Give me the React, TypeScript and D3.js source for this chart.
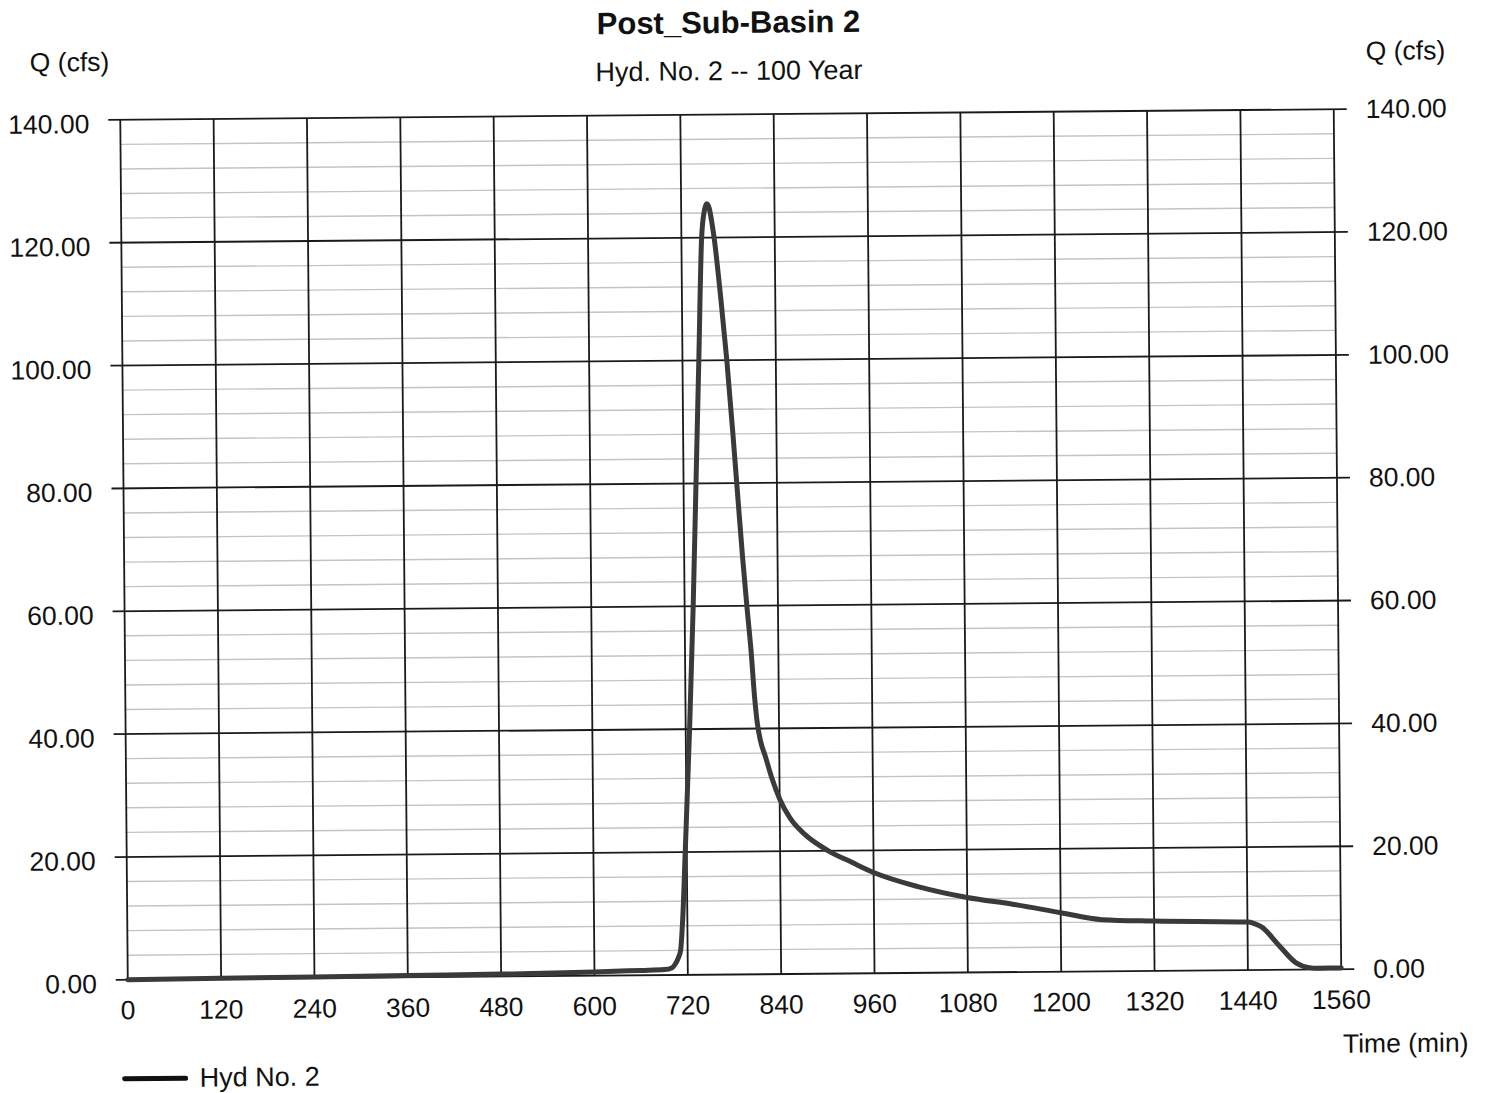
import React from 'react';
import * as d3 from 'd3';

// Hydrograph (time in minutes, flow in cfs)
const timeMin = [0, 120, 240, 360, 480, 600, 660, 690, 700, 704, 708, 711, 714, 718, 725, 731, 736, 741, 746, 750, 753, 756, 759, 762, 770, 777, 784, 790, 795, 800, 805, 809, 812, 816, 822, 830, 840, 853, 872, 902, 932, 960, 1018, 1080, 1140, 1200, 1253, 1320, 1440, 1448, 1458, 1480, 1502, 1519, 1530, 1560];
const flowCfs = [0, 0.1, 0.2, 0.3, 0.4, 0.6, 0.8, 0.9, 1.2, 1.8, 2.8, 4, 9, 20, 40, 60, 80, 100, 120, 124.5, 125.5, 124.8, 122.7, 120, 110, 100, 88, 77, 68, 60, 52.5, 45, 41, 38, 35.5, 32, 28.5, 25.4, 22.7, 20, 18.1, 16.4, 14, 12.2, 11, 9.6, 8.4, 8.1, 7.8, 7.6, 7, 4, 1.1, 0.3, 0.2, 0.2];

const xTicks = [0, 120, 240, 360, 480, 600, 720, 840, 960, 1080, 1200, 1320, 1440, 1560];
const yTicks = [0, 20, 40, 60, 80, 100, 120, 140];
const yMinorTicks = d3.range(0, 141, 4).filter(v => v % 20 !== 0);

const title = 'Post_Sub-Basin 2';
const subtitle = 'Hyd. No. 2 -- 100 Year';
const yLabel = 'Q (cfs)';
const xLabel = 'Time (min)';
const seriesName = 'Hyd No. 2';

const W = 1488;
const H = 1093;
const plot = { left: 124, right: 1337.5, top: 114.5, bottom: 974.5 };
const font = '"Liberation Sans", Arial, Helvetica, sans-serif';

const App: React.FC = () => {
    const x = d3.scaleLinear().domain([0, 1560]).range([plot.left, plot.right]);
    const y = d3.scaleLinear().domain([0, 140]).range([plot.bottom, plot.top]);

    const line = d3.line<number>()
        .x((d, i) => x(timeMin[i]))
        .y(d => y(d))
        .curve(d3.curveMonotoneX);

    const pathD = line(flowCfs) || '';

    return (
        <div style={{ position: 'absolute', left: 0, top: 0 }}>
            <svg width={W} height={H} style={{ display: 'block', background: '#fff' }}>
                {/* the scan is tilted by about half a degree */}
                <g transform="rotate(-0.5, 731, 544)" fontFamily={font} fill="#111">
                    {/* minor horizontal grid */}
                    {yMinorTicks.map(v => (
                        <line key={'m' + v} x1={plot.left} x2={plot.right} y1={y(v)} y2={y(v)}
                            stroke="#c4c4c4" strokeWidth={1.4} />
                    ))}
                    {/* major horizontal grid with ticks on both sides */}
                    {yTicks.map(v => (
                        <line key={'h' + v} x1={plot.left - 12} x2={plot.right + 13} y1={y(v)} y2={y(v)}
                            stroke="#1a1a1a" strokeWidth={1.8} />
                    ))}
                    {/* vertical grid */}
                    {xTicks.map(v => (
                        <line key={'v' + v} x1={x(v)} x2={x(v)} y1={plot.top} y2={plot.bottom}
                            stroke="#1a1a1a" strokeWidth={1.8} />
                    ))}

                    {/* hydrograph */}
                    <path d={pathD} fill="none" stroke="#3a3a3a" strokeWidth={5}
                        strokeLinejoin="round" strokeLinecap="round" />

                    {/* left axis labels */}
                    {yTicks.map(v => (
                        <text key={'yl' + v} x={plot.left - 31} y={y(v) + 13} fontSize={26.5} textAnchor="end">
                            {v.toFixed(2)}
                        </text>
                    ))}
                    {/* right axis labels */}
                    {yTicks.map(v => (
                        <text key={'yr' + v} x={plot.right + 32} y={y(v) + 9} fontSize={26.5} textAnchor="start">
                            {v.toFixed(2)}
                        </text>
                    ))}
                    {/* x axis labels */}
                    {xTicks.map(v => (
                        <text key={'xl' + v} x={x(v)} y={plot.bottom + 39.5} fontSize={26.5} textAnchor="middle">
                            {v}
                        </text>
                    ))}

                    <text x={34} y={65.5} fontSize={26.5}>{yLabel}</text>
                    <text x={1370} y={65.5} fontSize={26.5}>{yLabel}</text>
                    <text x={plot.right + 1} y={plot.bottom + 83.5} fontSize={26.5}>{xLabel}</text>

                    <text x={733} y={33} fontSize={31} fontWeight="bold" textAnchor="middle">{title}</text>
                    <text x={733} y={80} fontSize={27} textAnchor="middle">{subtitle}</text>

                    {/* legend */}
                    <line x1={120} x2={181} y1={1073.5} y2={1073.5} stroke="#111" strokeWidth={5} strokeLinecap="round" />
                    <text x={195} y={1082} fontSize={27}>{seriesName}</text>
                </g>
            </svg>
        </div>
    );
};

export default App;
